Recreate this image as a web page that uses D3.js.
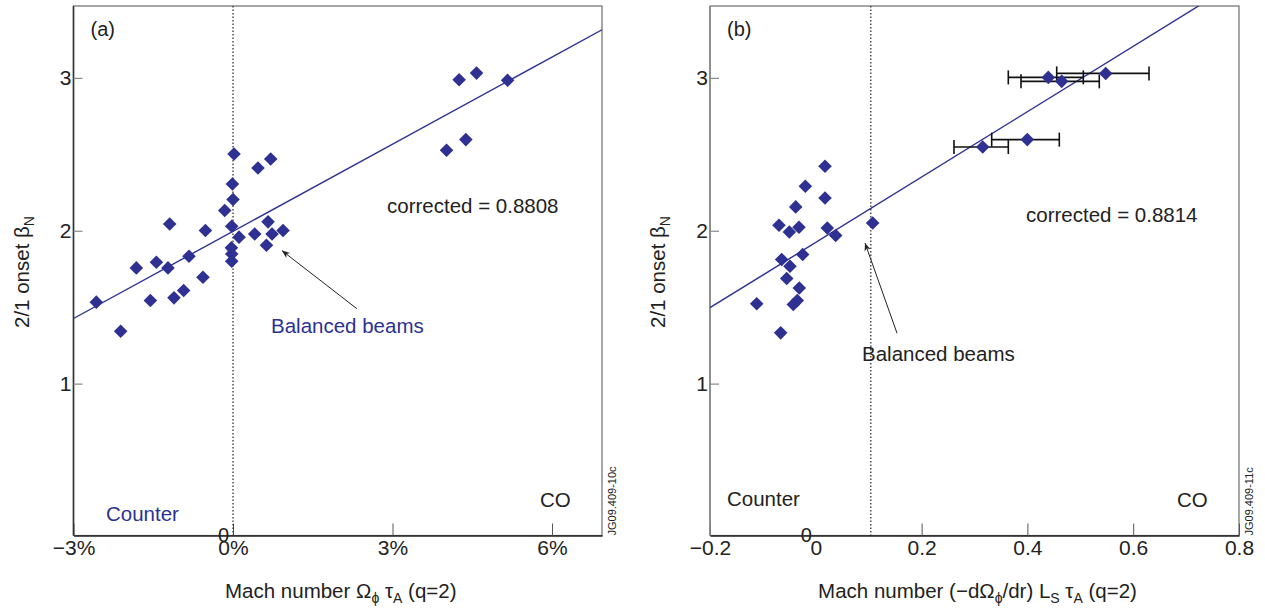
<!DOCTYPE html>
<html>
<head>
<meta charset="utf-8">
<script src="https://cdn.jsdelivr.net/npm/d3@7"></script>
<style>
  html, body { margin: 0; padding: 0; background: #fff; }
  svg { display: block; font-family: "Liberation Sans", Arial, Helvetica, sans-serif; }
</style>
</head>
<body>
<svg id="chart" width="1265" height="612"></svg>
<script>
// ---- Panel (a): toroidal Mach number at q=2 (%) vs 2/1 onset beta_N ----
const machA = [-2.571, -2.113, -1.818, -1.554, -1.441, -1.223, -1.191, -1.110, -0.928, -0.828,
               -0.565, -0.519, -0.156, 0.019, -0.011, 0.000, -0.024, 0.113, -0.030, -0.024,
               -0.024, 0.470, 0.709, 0.408, 0.659, 0.629, 0.734, 0.941,
               4.253, 4.580, 5.164, 4.016, 4.379];
const betaA = [1.533, 1.343, 1.757, 1.544, 1.794, 1.757, 2.044, 1.561, 1.609, 1.833,
               1.696, 2.001, 2.132, 2.502, 2.306, 2.204, 2.029, 1.958, 1.888, 1.848,
               1.801, 2.410, 2.469, 1.979, 2.058, 1.905, 1.979, 2.001,
               2.988, 3.031, 2.984, 2.526, 2.596];

// ---- Panel (b): shear Mach number (-dOmega/dr) Ls tauA vs 2/1 onset beta_N ----
const shearB = [0.0174, -0.0198, 0.0174, -0.038, -0.0696, -0.050, -0.0318, 0.0217, 0.0376, 0.1075,
                -0.0248, -0.0645, -0.0488, -0.055, -0.0312, -0.035, -0.0425, -0.1117, -0.0664];
const betaB = [2.422, 2.291, 2.214, 2.156, 2.036, 1.992, 2.023, 2.018, 1.969, 2.051,
               1.844, 1.812, 1.768, 1.688, 1.626, 1.544, 1.518, 1.522, 1.332];

// Panel (b) shots with horizontal uncertainty
const barShear = [0.4395, 0.4648, 0.548, 0.3155, 0.3998];
const barBeta  = [3.003, 2.977, 3.029, 2.548, 2.596];
const barLow   = [0.3639, 0.3879, 0.4554, 0.2612, 0.3325];
const barHigh  = [0.5057, 0.5359, 0.6299, 0.3639, 0.4603];

// Linear fits: [intercept, slope]
const fitA = [1.996, 0.190];
const fitB = [1.924, 2.137];

// Axis ticks and labels
const xTicksA = [-3, 0, 3, 6];
const xLabelsA = ["\u22123%", "0%", "3%", "6%"];
const xTicksB = [-0.2, 0, 0.2, 0.4, 0.6, 0.8];
const xLabelsB = ["\u22120.2", "0", "0.2", "0.4", "0.6", "0.8"];
const yTicks = [1, 2, 3];
const yLabels = ["1", "2", "3"];

// Reference lines (balanced beams)
const balancedA = 0;
const balancedB = 0.104;

const BLUE = "#2e3192";
const svg = d3.select("#chart");

const defs = svg.append("defs");
defs.append("marker")
  .attr("id", "arrowhead")
  .attr("viewBox", "0 0 10 10")
  .attr("refX", 10).attr("refY", 5)
  .attr("markerWidth", 8).attr("markerHeight", 8)
  .attr("markerUnits", "userSpaceOnUse")
  .attr("orient", "auto")
  .append("path")
  .attr("d", "M0,1 L10,5 L0,9 L3,5 Z")
  .attr("fill", "#222");

function richText(g, parts, attrs) {
  const t = g.append("text");
  Object.entries(attrs).forEach(([k, v]) => t.attr(k, v));
  let shifted = false;
  parts.forEach(([str, sub]) => {
    const s = t.append("tspan").text(str);
    if (sub && !shifted) { s.attr("dy", 5).attr("font-size", 14); shifted = true; }
    else if (sub) { s.attr("font-size", 14); }
    else if (shifted) { s.attr("dy", -5); shifted = false; }
  });
  return t;
}

function drawPanel(cfg) {
  const g = svg.append("g");
  const top = 6, bottom = 535.5;
  const x = d3.scaleLinear().domain(cfg.xDomain).range([cfg.left, cfg.right]);
  const y = d3.scaleLinear().domain([0, 3.47]).range([536.5, top]);

  // clip region for the plot area
  defs.append("clipPath").attr("id", cfg.id + "-clip")
    .append("rect").attr("x", cfg.left).attr("y", top)
    .attr("width", cfg.right - cfg.left).attr("height", bottom - top);

  // frame (top and right sides)
  g.append("rect")
    .attr("x", cfg.left).attr("y", top)
    .attr("width", cfg.right - cfg.left).attr("height", bottom - top)
    .attr("fill", "none").attr("stroke", "#6d6d6d").attr("stroke-width", 1.2);

  // x axis (ticks point inward)
  const xAxis = d3.axisBottom(x)
    .tickValues(cfg.xTicks)
    .tickFormat((d, i) => cfg.xLabels[i])
    .tickSizeInner(-12).tickSizeOuter(0).tickPadding(5);
  const gx = g.append("g").attr("transform", `translate(0,${bottom})`).call(xAxis);
  gx.select(".domain").attr("stroke", "#222").attr("stroke-width", 1.6);
  gx.selectAll(".tick line").attr("stroke", "#555").attr("stroke-width", 1);
  gx.selectAll(".tick").filter(d => d === cfg.hideTick).select("line").remove();
  gx.selectAll(".tick text").attr("font-size", 21).attr("fill", "#222")
    .attr("font-family", "'Liberation Sans', Arial, sans-serif");

  // y axis (ticks point inward)
  const yAxis = d3.axisLeft(y)
    .tickValues(yTicks)
    .tickFormat((d, i) => yLabels[i])
    .tickSizeInner(-9).tickSizeOuter(0).tickPadding(2);
  const gy = g.append("g").attr("transform", `translate(${cfg.left},0)`).call(yAxis);
  gy.select(".domain").attr("stroke", cfg.yAxisColor).attr("stroke-width", 1.6)
    .attr("d", `M0,${top}V${bottom}`);
  gy.selectAll(".tick line").attr("stroke", "#888").attr("stroke-width", 1.2);
  gy.selectAll(".tick text").attr("font-size", 21).attr("fill", "#222")
    .attr("font-family", "'Liberation Sans', Arial, sans-serif");

  // y origin label sitting at the corner of the x axis
  g.append("text")
    .attr("x", x(0) - 4).attr("y", y(0) + 5)
    .attr("text-anchor", "end").attr("font-size", 20).attr("fill", "#222")
    .text("0");

  // balanced-beam reference (dotted vertical)
  g.append("line")
    .attr("x1", x(cfg.balanced)).attr("x2", x(cfg.balanced))
    .attr("y1", top).attr("y2", bottom)
    .attr("stroke", "#222").attr("stroke-width", 1.2)
    .attr("stroke-dasharray", "1.5,2");

  // linear fit
  const xs = x.domain();
  g.append("path")
    .attr("clip-path", `url(#${cfg.id}-clip)`)
    .datum(xs)
    .attr("d", d3.line().x(d => x(d)).y(d => y(cfg.fit[0] + cfg.fit[1] * d)))
    .attr("fill", "none").attr("stroke", BLUE).attr("stroke-width", 1.4);

  // horizontal error bars
  if (cfg.bars) {
    const b = cfg.bars;
    const eb = g.append("g").attr("stroke", "#111").attr("stroke-width", 1.6).attr("fill", "none");
    b.lo.forEach((lo, i) => {
      const yy = y(b.beta[i]);
      eb.append("line").attr("x1", x(lo)).attr("x2", x(b.hi[i])).attr("y1", yy).attr("y2", yy);
      eb.append("line").attr("x1", x(lo)).attr("x2", x(lo)).attr("y1", yy - 7).attr("y2", yy + 7);
      eb.append("line").attr("x1", x(b.hi[i])).attr("x2", x(b.hi[i])).attr("y1", yy - 7).attr("y2", yy + 7);
    });
  }

  // diamonds
  const sym = d3.symbol().type(d3.symbolSquare).size(92);
  const pts = cfg.xs.map((v, i) => [v, cfg.ys[i]]);
  if (cfg.bars) cfg.bars.x.forEach((v, i) => pts.push([v, cfg.bars.beta[i]]));
  g.append("g").selectAll("path").data(pts).join("path")
    .attr("d", sym)
    .attr("transform", d => `translate(${x(d[0])},${y(d[1])}) rotate(45)`)
    .attr("fill", BLUE);

  // annotations
  g.append("text").attr("x", cfg.left + 17).attr("y", top + 30)
    .attr("font-size", 20).attr("fill", "#222").text(cfg.tag);
  g.append("text").attr("x", cfg.corr.x).attr("y", cfg.corr.y)
    .attr("font-size", 20.5).attr("fill", "#222").text(cfg.corr.text);
  g.append("text").attr("x", cfg.balancedLabel.x).attr("y", cfg.balancedLabel.y)
    .attr("font-size", 20.5).attr("fill", cfg.balancedLabel.color).text("Balanced beams");
  g.append("line")
    .attr("x1", x(cfg.arrow[0])).attr("y1", y(cfg.arrow[1]))
    .attr("x2", x(cfg.arrow[2])).attr("y2", y(cfg.arrow[3]))
    .attr("stroke", "#222").attr("stroke-width", 1)
    .attr("marker-end", "url(#arrowhead)");
  g.append("text").attr("x", cfg.counter.x).attr("y", cfg.counter.y)
    .attr("font-size", 20.5).attr("fill", cfg.counter.color).text("Counter");
  g.append("text").attr("x", cfg.co.x).attr("y", cfg.co.y)
    .attr("font-size", 20.5).attr("fill", "#222").text("CO");

  // figure id, vertical at the right edge
  g.append("text")
    .attr("transform", `translate(${cfg.right + 14},${bottom}) rotate(-90)`)
    .attr("font-size", 11).attr("fill", "#222").text(cfg.figId);

  // axis titles
  richText(g, [["2/1 onset \u03b2", false], ["N", true]], {
    transform: `translate(${cfg.left - 45},272) rotate(-90)`,
    "text-anchor": "middle", "font-size": 20.5, fill: "#222"
  });
  richText(g, cfg.xTitle, {
    x: (cfg.left + cfg.right) / 2 + 3, y: 598,
    "text-anchor": "middle", "font-size": 20.5, fill: "#222"
  });
}

drawPanel({
  id: "pa", tag: "(a)", left: 73.5, right: 602, xDomain: [-3, 6.94],
  xTicks: xTicksA, xLabels: xLabelsA, hideTick: null, yAxisColor: "#333",
  xs: machA, ys: betaA, fit: fitA, balanced: balancedA,
  corr: { x: 387, y: 213, text: "corrected = 0.8808" },
  balancedLabel: { x: 271, y: 333, color: BLUE },
  arrow: [2.33, 1.49, 0.92, 1.87],
  counter: { x: 106, y: 521, color: BLUE },
  co: { x: 540, y: 507 },
  figId: "JG09.409-10c",
  xTitle: [["Mach number \u03a9", false], ["\u03d5", true], [" \u03c4", false], ["A", true], [" (q=2)", false]]
});

drawPanel({
  id: "pb", tag: "(b)", left: 710, right: 1239, xDomain: [-0.2, 0.8],
  xTicks: xTicksB, xLabels: xLabelsB, hideTick: 0, yAxisColor: "#8a8a8a",
  xs: shearB, ys: betaB, fit: fitB, balanced: balancedB,
  bars: { x: barShear, beta: barBeta, lo: barLow, hi: barHigh },
  corr: { x: 1026, y: 222, text: "corrected = 0.8814" },
  balancedLabel: { x: 862, y: 361, color: "#222" },
  arrow: [0.1535, 1.33, 0.093, 1.92],
  counter: { x: 727, y: 506, color: "#222" },
  co: { x: 1177, y: 507 },
  figId: "JG09.409-11c",
  xTitle: [["Mach number (\u2212d\u03a9", false], ["\u03d5", true], ["/dr) L", false], ["S", true], [" \u03c4", false], ["A", true], [" (q=2)", false]]
});
</script>
</body>
</html>
